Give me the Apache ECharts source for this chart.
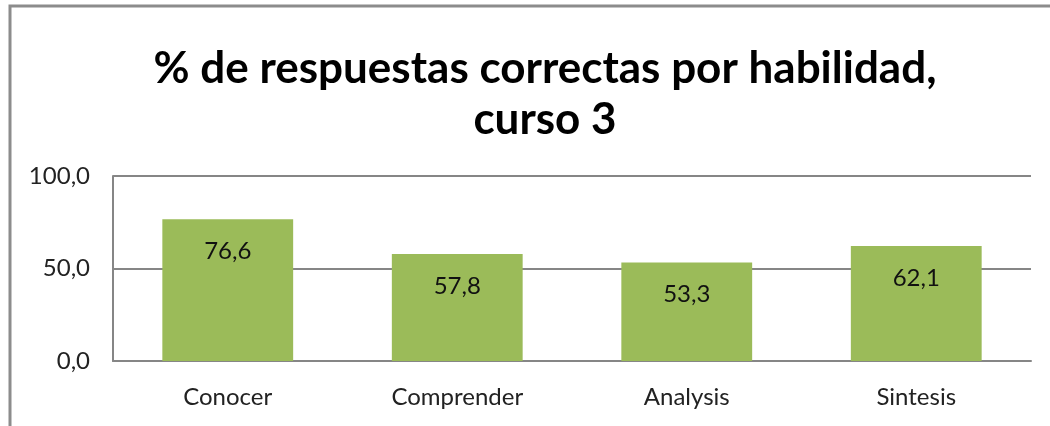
<!DOCTYPE html>
<html>
<head>
<meta charset="utf-8">
<script src="https://cdn.jsdelivr.net/npm/echarts@6/dist/echarts.min.js"></script>
<style>
  html, body { margin: 0; padding: 0; background: #fff; }
  #main { width: 1050px; height: 426px; }
</style>
</head>
<body>
<div id="main"></div>
<script>
// datos del gráfico
var categorias = ['Conocer', 'Comprender', 'Analysis', 'Sintesis']
var porcentajes = [76.6, 57.8, 53.3, 62.1]
var ticksY = [0, 50, 100]

var fuente = 'Lato, "Open Sans", sans-serif'
var gris = '#868686'

var myChart = echarts.init(document.getElementById('main'))

var option = {
  backgroundColor: '#fff',
  animation: false,
  title: {
    text: '% de respuestas correctas por habilidad,\ncurso 3',
    left: 540,
    top: 38,
    textAlign: 'center',
    textStyle: {
      fontFamily: fuente,
      fontWeight: 'bold',
      fontSize: 44,
      lineHeight: 51,
      color: '#000'
    }
  },
  graphic: [
    {
      type: 'rect',
      shape: { x: 10, y: 6, width: 1060, height: 440 },
      style: { fill: 'none', stroke: '#8c8c8c', lineWidth: 3 },
      silent: true
    }
  ],
  grid: {
    left: 113,
    right: 19,
    top: 176,
    bottom: 65
  },
  xAxis: {
    type: 'category',
    data: categorias,
    axisLine: { lineStyle: { color: gris, width: 2 } },
    axisTick: { show: false },
    axisLabel: {
      fontFamily: fuente,
      fontSize: 24,
      color: '#222',
      margin: 24
    }
  },
  yAxis: {
    type: 'value',
    min: ticksY[0],
    max: ticksY[ticksY.length - 1],
    interval: 50,
    axisLine: { show: true, lineStyle: { color: gris, width: 2 } },
    axisTick: { show: false },
    splitLine: { lineStyle: { color: gris, width: 2 } },
    axisLabel: {
      fontFamily: fuente,
      fontSize: 24,
      color: '#222',
      margin: 23,
      formatter: function (v) { return v.toFixed(1).replace('.', ',') }
    }
  },
  series: [
    {
      type: 'bar',
      data: porcentajes,
      barWidth: '57%',
      itemStyle: { color: '#9BBB59' },
      label: {
        show: true,
        position: 'insideTop',
        distance: 20,
        fontFamily: fuente,
        fontSize: 24,
        color: '#111',
        formatter: function (p) { return p.value.toFixed(1).replace('.', ',') }
      }
    }
  ]
}

myChart.setOption(option)
</script>
</body>
</html>
